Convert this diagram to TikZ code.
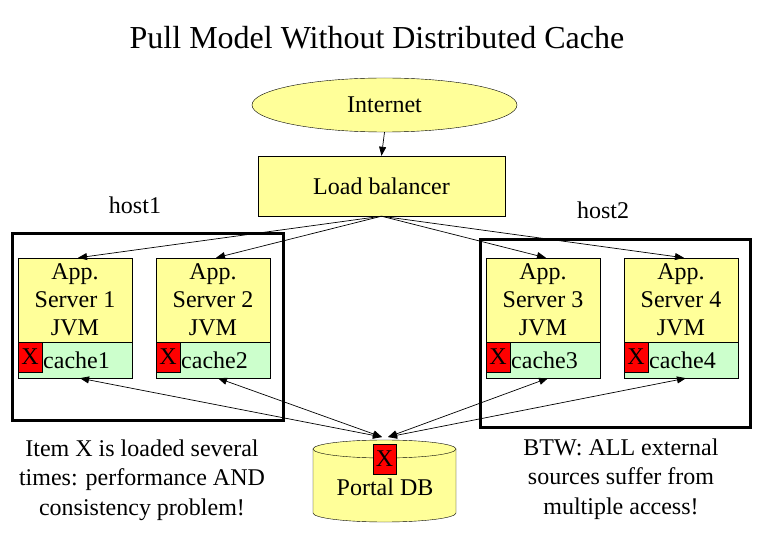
\documentclass[tikz,border=0pt]{standalone}
\usepackage{fontspec}
\setmainfont{Liberation Serif}
\usetikzlibrary{shapes.geometric,arrows.meta}
\definecolor{pyel}{HTML}{FFFF99}
\definecolor{pgrn}{HTML}{CCFFCC}
\definecolor{pred}{HTML}{FF0000}
\tikzset{
  body/.style={font=\fontsize{24}{28}\selectfont},
  appbox/.style={draw, fill=pyel, minimum width=114pt, minimum height=84pt, inner sep=0pt, align=center, body},
  cachebox/.style={draw, fill=pgrn, minimum width=114pt, minimum height=36pt, inner sep=0pt},
  xbox/.style={draw, fill=pred, minimum width=24pt, minimum height=30pt, inner sep=0pt, body},
  hostbox/.style={draw, line width=3pt, inner sep=0pt},
  conn/.style={-{Triangle[length=9pt,width=7pt]}, line width=0.7pt},
  dconn/.style={{Triangle[length=9pt,width=7pt]}-{Triangle[length=9pt,width=7pt]}, line width=0.7pt},
}
\begin{document}
\begin{tikzpicture}[x=1pt,y=-1pt]
\useasboundingbox (0,0) rectangle (780,540);
\node[font=\fontsize{32}{36}\selectfont] (title) at (377,38) {Pull Model Without Distributed Cache};
% internet and load balancer
\node[ellipse, draw, fill=pyel, minimum width=265pt, minimum height=54pt, inner sep=0pt, body] (inet) at (384.5,105) {Internet};
\node[draw, fill=pyel, minimum width=247pt, minimum height=60pt, inner sep=0pt, body] (lb) at (381.5,186) {Load balancer};
\draw[conn] (inet.south) -- (lb.north);
% hosts
\node[body] (h1label) at (135,205) {host1};
\node[body] (h2label) at (603,210) {host2};
\node[hostbox, minimum width=271pt, minimum height=186pt] (host1) at (147.5,327) {};
\node[hostbox, minimum width=270pt, minimum height=187pt] (host2) at (615,333.5) {};
% app servers
\foreach \i/\cx in {1/75,2/213,3/543,4/681}{
  \node[appbox] (s\i) at (\cx,300) {App.\\Server \i\\JVM};
  \node[cachebox] (c\i) at (\cx,360) {};
  \node[xbox] (x\i) at (\cx-45,357) {X};
  \node[body, anchor=west, inner sep=1pt] (ct\i) at (\cx-33,360) {cache\i};
}
% database
\fill[pyel] (313,449) -- (313,513) arc[start angle=180, end angle=360, x radius=71.5, y radius=-9] -- (456,449) -- cycle;
\draw (313,449) -- (313,513) arc[start angle=180, end angle=360, x radius=71.5, y radius=-9] -- (456,449);
\draw[fill=pyel] (384.5,449) ellipse[x radius=71.5, y radius=9];
\node[xbox, minimum width=23pt] (dbx) at (384.5,459) {X};
\node[body] (db) at (385,487) {Portal DB};
\coordinate (dbL) at (382,437);
\coordinate (dbR) at (388,437);
% load balancer to servers
\foreach \i in {1,2,3,4}{ \draw[conn] (lb.south) -- ([xshift=3pt]s\i.north); }
% database to caches
\draw[dconn] (dbL) -- ([xshift=5pt]c1.south);
\draw[dconn] (dbL) -- ([xshift=5pt]c2.south);
\draw[dconn] (dbR) -- ([xshift=5pt]c3.south);
\draw[dconn] (dbR) -- ([xshift=5pt]c4.south);
% notes
\node[align=center, font=\fontsize{24}{29.5}\selectfont] (note1) at (142,480) {Item X is loaded several\\times: performance AND\\consistency problem!};
\node[align=center, font=\fontsize{24}{29.5}\selectfont] (note2) at (621,479) {BTW: ALL external\\sources suffer from\\multiple access!};
\end{tikzpicture}
\end{document}
